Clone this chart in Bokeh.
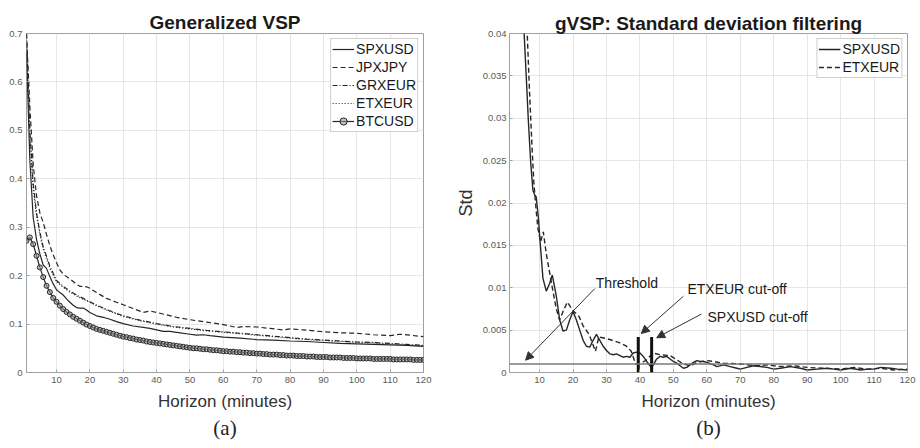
from bokeh.plotting import figure
from bokeh.models import (Range1d, FixedTicker, Legend, LegendItem,
                          Span, Label, Arrow, NormalHead, Title)
from bokeh.layouts import row
from bokeh.embed import file_html
from bokeh.resources import INLINE

FONT = "Liberation Sans"
SERIF = "Liberation Serif"
LINE = "#262626"
AXIS = "#a0a0a0"
TICKLBL = "#5a5a5a"
GRID = "#e6e6e6"

# ---------------- Panel (a): Generalized VSP ----------------
x_btc = list(range(1, 121))
btc = [0.272, 0.279, 0.265, 0.241, 0.217, 0.197, 0.179, 0.166, 0.154, 0.146,
       0.138, 0.131, 0.125, 0.120, 0.115, 0.111, 0.107, 0.103, 0.099, 0.096,
       0.093, 0.090, 0.088, 0.086, 0.084, 0.082, 0.080, 0.078, 0.076, 0.074,
       0.073, 0.071, 0.070, 0.068, 0.067, 0.066, 0.064, 0.063, 0.062, 0.061,
       0.060, 0.059, 0.058, 0.057, 0.056, 0.055, 0.054, 0.053, 0.052, 0.051,
       0.050, 0.050, 0.049, 0.048, 0.048, 0.047, 0.046, 0.046, 0.045, 0.044,
       0.044, 0.043, 0.043, 0.042, 0.042, 0.041, 0.041, 0.040, 0.040, 0.039,
       0.039, 0.038, 0.038, 0.037, 0.037, 0.037, 0.036, 0.036, 0.035, 0.035,
       0.035, 0.034, 0.034, 0.034, 0.033, 0.033, 0.033, 0.032, 0.032, 0.032,
       0.032, 0.031, 0.031, 0.031, 0.031, 0.030, 0.030, 0.030, 0.030, 0.029,
       0.029, 0.029, 0.029, 0.029, 0.028, 0.028, 0.028, 0.028, 0.028, 0.028,
       0.027, 0.027, 0.027, 0.027, 0.027, 0.027, 0.026, 0.026, 0.026, 0.026]

x_spx = [1, 2, 3, 4, 5, 6, 7, 8, 9, 10, 11, 12, 13, 14, 15, 16, 17, 18, 19, 20,
         22, 24, 26, 28, 30, 33, 36, 38, 40, 42, 44, 46, 50, 52, 54, 56, 60, 65,
         70, 75, 80, 85, 90, 95, 100, 105, 110, 115, 120]
spx = [0.66, 0.44, 0.32, 0.275, 0.245, 0.222, 0.215, 0.198, 0.183, 0.171, 0.165,
       0.160, 0.152, 0.145, 0.139, 0.134, 0.133, 0.133, 0.129, 0.124, 0.117,
       0.114, 0.110, 0.105, 0.101, 0.096, 0.093, 0.091, 0.088, 0.085, 0.085,
       0.083, 0.079, 0.077, 0.078, 0.076, 0.073, 0.071, 0.068, 0.067, 0.065,
       0.064, 0.062, 0.060, 0.059, 0.058, 0.057, 0.056, 0.054]

x_jpx = [1, 2, 3, 4, 5, 6, 7, 8, 9, 10, 11, 12, 13, 14, 15, 16, 17, 18, 19, 20,
         22, 25, 28, 30, 33, 36, 38, 40, 43, 46, 50, 55, 60, 64, 66, 70, 74, 78,
         80, 84, 90, 95, 100, 105, 110, 113, 116, 120]
jpx = [0.70, 0.55, 0.43, 0.365, 0.33, 0.31, 0.285, 0.262, 0.243, 0.227, 0.212,
       0.203, 0.198, 0.193, 0.188, 0.182, 0.178, 0.178, 0.177, 0.174, 0.165,
       0.153, 0.145, 0.140, 0.132, 0.124, 0.127, 0.124, 0.119, 0.114, 0.109,
       0.104, 0.099, 0.093, 0.095, 0.094, 0.091, 0.088, 0.090, 0.088, 0.084,
       0.082, 0.081, 0.078, 0.076, 0.079, 0.077, 0.074]

x_eu = [1, 2, 3, 4, 5, 6, 7, 8, 9, 10, 12, 14, 16, 18, 20, 22, 25, 28, 30, 35,
        40, 45, 50, 55, 60, 65, 70, 75, 80, 85, 90, 95, 100, 105, 110, 115, 120]
grx = [0.70, 0.50, 0.39, 0.33, 0.29, 0.26, 0.24, 0.22, 0.205, 0.19, 0.178,
       0.168, 0.160, 0.153, 0.146, 0.139, 0.130, 0.122, 0.117, 0.108, 0.101,
       0.095, 0.091, 0.087, 0.084, 0.081, 0.078, 0.075, 0.072, 0.069, 0.067,
       0.065, 0.063, 0.062, 0.060, 0.058, 0.056]
etx = [0.68, 0.49, 0.38, 0.325, 0.285, 0.255, 0.235, 0.215, 0.20, 0.187, 0.176,
       0.166, 0.158, 0.151, 0.145, 0.138, 0.129, 0.121, 0.116, 0.107, 0.100,
       0.094, 0.090, 0.086, 0.083, 0.080, 0.077, 0.074, 0.071, 0.068, 0.066,
       0.064, 0.062, 0.061, 0.059, 0.057, 0.055]

a_xticks = [10, 20, 30, 40, 50, 60, 70, 80, 90, 100, 110, 120]
a_yticks = [0, 0.1, 0.2, 0.3, 0.4, 0.5, 0.6, 0.7]
a_ylabels = ["0", "0.1", "0.2", "0.3", "0.4", "0.5", "0.6", "0.7"]

# ---------------- Panel (b): Std filtering ----------------
x_sstd = [4, 5, 6, 6.6, 7.3, 8, 8.5, 9, 9.7, 10, 11, 12, 13, 13.8, 15, 16, 17,
          18, 19, 20, 21, 22, 23, 24, 25, 26, 27, 28, 29, 30, 31, 32, 33, 34,
          35, 36, 37, 38, 39, 40, 41, 42, 43, 43.5, 44, 45, 46, 47, 48, 49, 50,
          51, 52, 53, 54, 55, 56, 57, 58, 59, 60, 62, 63, 65, 67, 69, 70, 72,
          74, 76, 78, 80, 82, 85, 88, 90, 93, 96, 98, 100, 103, 106, 108, 110,
          112, 115, 117, 120]
s_std = [0.058, 0.043, 0.035, 0.030, 0.025, 0.0215, 0.021, 0.0207, 0.018,
         0.0162, 0.0111, 0.0096, 0.0105, 0.0115, 0.009, 0.0062, 0.0049, 0.0050,
         0.0062, 0.0072, 0.0062, 0.0050, 0.0038, 0.0031, 0.0030, 0.0038, 0.0045,
         0.0038, 0.0031, 0.0026, 0.0022, 0.0021, 0.0022, 0.0020, 0.0018, 0.0019,
         0.0018, 0.0023, 0.0024, 0.0023, 0.0019, 0.0013, 0.0008, 0.0006, 0.0009,
         0.0016, 0.0019, 0.0018, 0.0019, 0.0016, 0.0013, 0.0011, 0.0008, 0.0005,
         0.0006, 0.0009, 0.0012, 0.0014, 0.0013, 0.0013, 0.0012, 0.0009, 0.0007,
         0.0009, 0.0007, 0.0005, 0.0004, 0.0006, 0.0008, 0.0007, 0.0006, 0.0004,
         0.0005, 0.0007, 0.0005, 0.0003, 0.0004, 0.0005, 0.0004, 0.0003, 0.0005,
         0.0003, 0.0004, 0.0004, 0.0006, 0.0005, 0.0004, 0.0003]

x_estd = [5, 6, 6.3, 7, 7.8, 8.3, 9, 9.5, 10.3, 11.1, 12, 13.8, 15, 16, 17, 18.3,
          20, 21.8, 23, 24.8, 26.7, 27.7, 30, 31.7, 34, 36, 37.4, 38.7, 40, 42,
          43.9, 46, 49, 51, 53, 55.2, 57, 60, 62, 65, 70, 75, 78, 82, 86, 90, 95,
          100, 104, 108, 112, 116, 120]
e_std = [0.052, 0.042, 0.040, 0.033, 0.026, 0.0223, 0.019, 0.017, 0.0154, 0.0166,
         0.014, 0.010, 0.0075, 0.0062, 0.0072, 0.0083, 0.0073, 0.0066, 0.0055,
         0.0045, 0.0025, 0.0042, 0.0040, 0.0038, 0.0035, 0.0031, 0.0025, 0.0010,
         0.0010, 0.0015, 0.0023, 0.0021, 0.0020, 0.0015, 0.0010, 0.0008, 0.0012,
         0.0014, 0.0013, 0.0011, 0.0010, 0.0008, 0.0009, 0.0007, 0.0008, 0.0006,
         0.0005, 0.0004, 0.0006, 0.0004, 0.0005, 0.0003, 0.0004]

threshold = 0.001
cutoff_x = [39.5, 43.5]          # ETXEUR, SPXUSD cut-off horizons
cutoff_top = 0.0042

b_xticks = [10, 20, 30, 40, 50, 60, 70, 80, 90, 100, 110, 120]
b_yticks = [0, 0.005, 0.01, 0.015, 0.02, 0.025, 0.03, 0.035, 0.04]
b_ylabels = ["0", "0.005", "0.01", "0.015", "0.02", "0.025", "0.03", "0.035", "0.04"]

# annotation texts & anchor positions (data coordinates)
ann_text = ["Threshold", "ETXEUR cut-off", "SPXUSD cut-off"]
ann_text_pos = [(26.8, 0.0106), (54.2, 0.0099), (60.2, 0.0066)]
ann_arrow_start = [(26.5, 0.0099), (53.0, 0.0090), (58.4, 0.0069)]
ann_arrow_end = [(5.8, 0.00145), (40.4, 0.0046), (45.0, 0.0041)]


def style(p, xticks, yticks, ylabels, caption):
    p.title.align = "center"
    p.title.text_font = FONT
    p.title.text_font_size = "19px"
    p.title.text_font_style = "bold"
    p.title.text_color = "#1a1a1a"
    p.title.standoff = 2
    p.outline_line_color = AXIS
    p.outline_line_width = 1
    p.xaxis.ticker = FixedTicker(ticks=xticks)
    p.yaxis.ticker = FixedTicker(ticks=yticks)
    p.yaxis.major_label_overrides = {t: l for t, l in zip(yticks, ylabels)}
    for ax in (p.xaxis[0], p.yaxis[0]):
        ax.axis_line_color = None
        ax.major_tick_in = 3
        ax.major_tick_out = 0
        ax.minor_tick_line_color = None
        ax.major_tick_line_color = AXIS
        ax.major_label_text_font = FONT
        ax.major_label_text_font_size = "9.5px"
        ax.major_label_text_color = TICKLBL
        ax.major_label_standoff = 4
        ax.axis_label_text_font = FONT
        ax.axis_label_text_font_style = "normal"
        ax.axis_label_text_color = "#333333"
    p.xaxis.axis_label = "Horizon (minutes)"
    p.xaxis.axis_label_text_font_size = "17px"
    p.xaxis.axis_label_standoff = 6
    p.xgrid.ticker = FixedTicker(ticks=xticks)
    p.ygrid.ticker = FixedTicker(ticks=yticks)
    p.grid.grid_line_color = GRID
    p.grid.grid_line_width = 1
    p.add_layout(Title(text=caption, align="center", text_font=SERIF,
                       text_font_size="21px", text_font_style="normal",
                       text_color="#222222", standoff=0), "below")


def legend(p, items):
    lg = Legend(items=items, location="top_right", margin=5, padding=1, spacing=0,
                label_height=18, glyph_height=18, glyph_width=22, label_standoff=2,
                label_text_font=FONT, label_text_font_size="14px",
                label_text_color="#1a1a1a", border_line_color=AXIS,
                border_line_width=1, background_fill_color="white",
                background_fill_alpha=1)
    p.add_layout(lg, "center")


# ---- figure (a)
pa = figure(width=450, height=448, x_range=Range1d(1, 120), y_range=Range1d(0, 0.7),
            output_backend="svg", toolbar_location=None, title="Generalized VSP",
            min_border_left=26, min_border_right=27, min_border_top=33,
            min_border_bottom=76)
style(pa, a_xticks, a_yticks, a_ylabels, "(a)")
r_spx = pa.line(x_spx, spx, line_color=LINE, line_width=1.2)
r_jpx = pa.line(x_jpx, jpx, line_color=LINE, line_width=1.2, line_dash="5 3")
r_grx = pa.line(x_eu, grx, line_color=LINE, line_width=1.2, line_dash="5 2 1 2")
r_etx = pa.line(x_eu, etx, line_color=LINE, line_width=1.2, line_dash="1 2")
r_btc = pa.line(x_btc, btc, line_color=LINE, line_width=1.2)
r_btcm = pa.scatter(x_btc, btc, size=5, marker="circle", line_color=LINE,
                    line_width=1, fill_color="#9a9a9a", fill_alpha=0.6)
legend(pa, [LegendItem(label="SPXUSD", renderers=[r_spx]),
            LegendItem(label="JPXJPY", renderers=[r_jpx]),
            LegendItem(label="GRXEUR", renderers=[r_grx]),
            LegendItem(label="ETXEUR", renderers=[r_etx]),
            LegendItem(label="BTCUSD", renderers=[r_btc, r_btcm])])

# ---- figure (b)
pb = figure(width=470, height=448, x_range=Range1d(1, 120), y_range=Range1d(0, 0.04),
            output_backend="svg", toolbar_location=None,
            title="gVSP: Standard deviation filtering",
            min_border_left=59, min_border_right=13, min_border_top=30,
            min_border_bottom=76)
style(pb, b_xticks, b_yticks, b_ylabels, "(b)")
pb.title.standoff = 0
yax = pb.yaxis[0]
yax.axis_label = "Std"
yax.axis_label_text_font_size = "18px"
yax.axis_label_standoff = 4
yax.major_label_standoff = 3

pb.add_layout(Span(location=threshold, dimension="width", line_color="#7a7a7a",
                   line_width=1.5))
r_s = pb.line(x_sstd, s_std, line_color=LINE, line_width=1.4)
r_e = pb.line(x_estd, e_std, line_color=LINE, line_width=1.4, line_dash="5 3")
pb.segment(x0=cutoff_x, y0=[0, 0], x1=cutoff_x, y1=[cutoff_top, cutoff_top],
           line_color="#111111", line_width=3)
for txt, (tx, ty), (sx, sy), (ex, ey) in zip(ann_text, ann_text_pos,
                                             ann_arrow_start, ann_arrow_end):
    pb.add_layout(Arrow(x_start=sx, y_start=sy, x_end=ex, y_end=ey,
                        line_color="#333333", line_width=1,
                        end=NormalHead(size=8, line_color="#333333",
                                       fill_color="#333333", line_width=1)))
    pb.add_layout(Label(x=tx, y=ty, text=txt, text_font=FONT, text_font_size="14px",
                        text_color="#1a1a1a", text_baseline="middle",
                        text_align="left"))
legend(pb, [LegendItem(label="SPXUSD", renderers=[r_s]),
            LegendItem(label="ETXEUR", renderers=[r_e])])

layout = row(pa, pb)
open("out.html", "w").write(file_html(layout, INLINE))
